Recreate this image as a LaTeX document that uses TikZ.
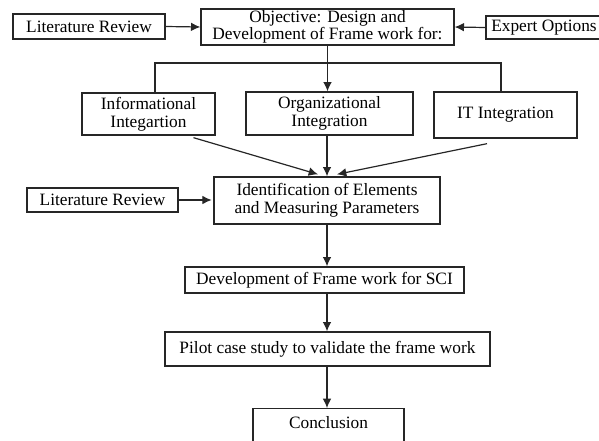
\documentclass[tikz,border=0pt]{standalone}
\usepackage{fontspec}
\setmainfont{Liberation Serif}
\usetikzlibrary{arrows.meta}
\usetikzlibrary{calc}

\begin{document}
\begin{tikzpicture}[x=0.75pt,y=0.75pt,yscale=-1,xscale=1,
    box/.style={draw=black!85,line width=1pt,fill=white,inner sep=0.75pt,align=center,
      font=\fontsize{13}{13.5}\selectfont},
    conn/.style={draw=black!85,line width=0.9pt},
    arr/.style={conn,-{Latex[length=7pt,width=6.5pt]}}]
    \path[use as bounding box] (0,0) rectangle (599,440);

    % Text Node
    \node (lit1) at (89,26.5) [box,minimum width=114pt,minimum height=18.75pt] {Literature Review};
    % Text Node
    \node (obj) at (327.5,27) [box,minimum width=189.75pt,minimum height=27pt,font=\fontsize{13}{12.5}\selectfont] {Objective: Design and\\Development of Frame work for:};
    % Text Node
    \node (expert) at (544,27.5) [box,minimum width=87pt,minimum height=17.25pt] {Expert Options};
    % Text Node
    \node (info) at (148.5,114) [box,minimum width=99.75pt,minimum height=31.5pt] {Informational\\Integartion};
    % Text Node
    \node (org) at (329.5,113.5) [box,minimum width=125.25pt,minimum height=32.25pt] {Organizational\\Integration};
    % Text Node
    \node (it) at (505.5,115) [box,minimum width=107.25pt,minimum height=34.5pt] {IT Integration};
    % Text Node
    \node (lit2) at (102.5,200) [box,minimum width=113.25pt,minimum height=18pt] {Literature Review};
    % Text Node
    \node (ident) at (327,200.5) [box,minimum width=169.5pt,minimum height=35.25pt] {Identification of Elements\\and Measuring Parameters};
    % Text Node
    \node (dev) at (324.5,280) [box,minimum width=209.25pt,minimum height=19.5pt] {Development of Frame work for SCI};
    % Text Node
    \node (pilot) at (327.5,349) [box,minimum width=243.75pt,minimum height=25.5pt] {Pilot case study to validate the frame work};
    % Text Node
    \node (concl) at (328.5,408) [box,anchor=north,minimum width=113.25pt,inner ysep=6pt,text depth=15pt] {Conclusion};

    % Connection
    \coordinate (jl) at (155,63);
    \coordinate (jr) at (501,63);
    \draw[arr] (lit1.east) -- (obj.west);
    \draw[arr] (expert.west) -- (obj.east);
    \draw[conn] (obj.south) -- (obj.south |- jl);
    \draw[conn] (jl |- info.north) -- (jl) -- (jr) -- (jr |- it.north);
    \draw[arr] (obj.south) -- (obj.south |- org.north);
    % Connection
    \draw[arr] ($(info.south)+(45,2)$) -- ($(ident.north)+(-9,-2)$);
    \draw[arr] (ident.north |- org.south) -- (ident.north);
    \draw[arr] ($(it.south)+(-18.5,5)$) -- ($(ident.north)+(10,-2)$);
    \draw[arr] (lit2.east) -- ++(33,0);
    % Connection
    \draw[arr] (ident.south) -- (ident.south |- dev.north);
    \draw[arr] (ident.south |- dev.south) -- (ident.south |- pilot.north);
    \draw[arr] (ident.south |- pilot.south) -- (ident.south |- concl.north);
\end{tikzpicture}
\end{document}
